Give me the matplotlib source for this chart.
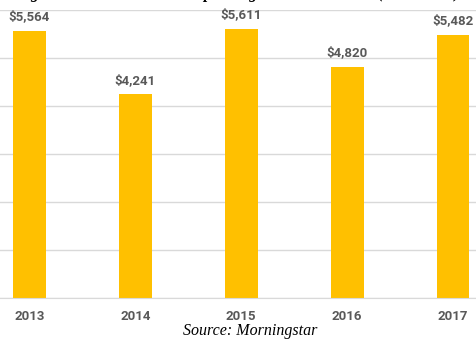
"""Annual values 2013-2017, Excel-style column chart (cropped page)."""

import matplotlib

matplotlib.use("Agg")
import matplotlib.pyplot as plt
import numpy as np

YEARS = ["2013", "2014", "2015", "2016", "2017"]
VALUES = [5564, 4241, 5611, 4820, 5482]
VALUE_LABELS = ["$5,564", "$4,241", "$5,611", "$4,820", "$5,482"]
TITLE = "Figure 4: Annual Total Ad Spending Trend Over Time (in millions)"
SOURCE = "Source: Morningstar"

BAR_COLOR = "#FFC000"
TEXT_COLOR = "#595959"
GRID_COLOR = "#D9D9D9"


def make_figure() -> plt.Figure:
    fig = plt.figure(figsize=(4.76, 3.45), dpi=100)
    # axes run past the left/right edges: the picture is a crop of a page
    ax = fig.add_axes([-23.5 / 476, 47 / 345, 529.5 / 476, 288 / 345])

    positions = np.arange(len(YEARS))
    ax.bar(positions, VALUES, width=0.31, color=BAR_COLOR, zorder=2)
    for x, value, label in zip(positions, VALUES, VALUE_LABELS):
        ax.annotate(
            label,
            (x, value),
            xytext=(0, 5.5),
            textcoords="offset points",
            ha="center",
            va="bottom",
            fontsize=9.5,
            fontweight="bold",
            family="Roboto",
            color=TEXT_COLOR,
        )

    ax.set_xlim(-0.5, len(YEARS) - 0.5)
    ax.set_ylim(0, 6000)
    ax.set_yticks(np.arange(0, 6001, 1000))
    ax.yaxis.grid(True, color=GRID_COLOR, linewidth=1.0, zorder=0)
    ax.set_axisbelow(True)
    for side in ("top", "right", "left"):
        ax.spines[side].set_visible(False)
    ax.spines["bottom"].set_color(GRID_COLOR)
    ax.tick_params(axis="y", left=False, labelleft=False)
    ax.set_xticks(positions, YEARS)
    ax.tick_params(axis="x", length=0, pad=8.5, colors=TEXT_COLOR)
    for lab in ax.get_xticklabels():
        lab.set_fontfamily("Roboto")
        lab.set_fontweight("bold")
        lab.set_fontsize(9.5)

    # page title above the crop: only its descenders show
    fig.text(
        16 / 476,
        1.0 + 1.5 / 345,
        TITLE,
        ha="left",
        va="baseline",
        family="Liberation Serif",
        style="italic",
        fontweight="bold",
        fontsize=11.5,
    )
    fig.text(
        250 / 476,
        1 - 331 / 345,
        SOURCE,
        ha="center",
        va="center",
        family="Liberation Serif",
        style="italic",
        fontsize=11.5,
    )
    return fig


def main() -> None:
    fig = make_figure()
    fig.savefig("out.png", dpi=100)
    plt.close(fig)


if __name__ == "__main__":
    main()
